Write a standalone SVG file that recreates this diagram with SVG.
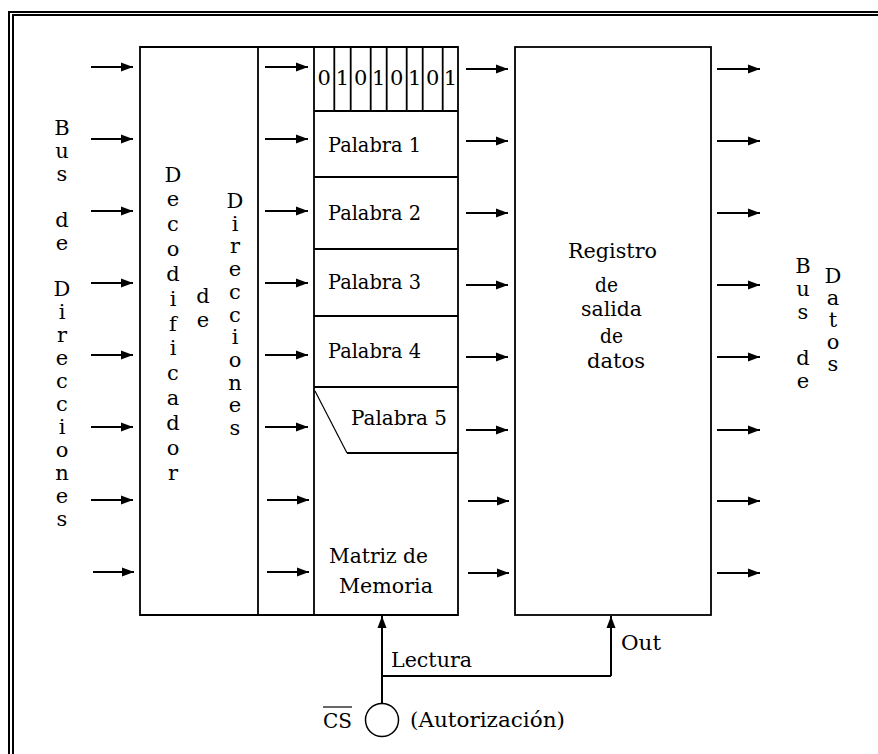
<svg xmlns="http://www.w3.org/2000/svg" width="878" height="754" viewBox="0 0 878 754">
<style>
text{font-family:"DejaVu Serif","Liberation Serif",serif;font-size:21px;fill:#000}
.v{text-anchor:middle;font-size:21px}
.box{fill:none;stroke:#000;stroke-width:1.8}
.ar{stroke:#000;stroke-width:2;fill:none;marker-end:url(#ah)}
.ln{stroke:#000;stroke-width:1.8;fill:none}
.bd{stroke:#000;stroke-width:2;fill:none}
</style>
<defs>
<marker id="ah" markerUnits="userSpaceOnUse" markerWidth="12" markerHeight="10" refX="12" refY="5" orient="auto">
<path d="M0,0.5 L12,5 L0,9.5 z" fill="#000"/>
</marker>
</defs>
<g id="border">
<path class="bd" d="M9,754 V12 H878"/>
<path class="bd" d="M13,754 V15 H878"/>
</g>
<g id="bus-direcciones">
<text class="v"><tspan x="62" y="135">B</tspan><tspan x="62" y="158">u</tspan><tspan x="62" y="181">s</tspan><tspan x="62" y="227">d</tspan><tspan x="62" y="250">e</tspan><tspan x="62" y="296">D</tspan><tspan x="62" y="319">i</tspan><tspan x="62" y="342">r</tspan><tspan x="62" y="365">e</tspan><tspan x="62" y="388">c</tspan><tspan x="62" y="411">c</tspan><tspan x="62" y="434">i</tspan><tspan x="62" y="457">o</tspan><tspan x="62" y="480">n</tspan><tspan x="62" y="503">e</tspan><tspan x="62" y="526">s</tspan></text>
</g>
<g id="decodificador">
<path class="box" d="M140,47 H458 V615 H140 Z M258,47 V615 M314,47 V615"/>
<text class="v"><tspan x="173" y="182">D</tspan><tspan x="173" y="206">e</tspan><tspan x="173" y="231">c</tspan><tspan x="173" y="256">o</tspan><tspan x="173" y="281">d</tspan><tspan x="173" y="306">i</tspan><tspan x="173" y="331">f</tspan><tspan x="173" y="355">i</tspan><tspan x="173" y="380">c</tspan><tspan x="173" y="405">a</tspan><tspan x="173" y="430">d</tspan><tspan x="173" y="455">o</tspan><tspan x="173" y="480">r</tspan></text>
<text class="v"><tspan x="203" y="303">d</tspan><tspan x="203" y="327">e</tspan></text>
<text class="v"><tspan x="235" y="208">D</tspan><tspan x="235" y="230.7">i</tspan><tspan x="235" y="253.4">r</tspan><tspan x="235" y="276.1">e</tspan><tspan x="235" y="298.8">c</tspan><tspan x="235" y="321.5">c</tspan><tspan x="235" y="344.2">i</tspan><tspan x="235" y="366.9">o</tspan><tspan x="235" y="389.6">n</tspan><tspan x="235" y="412.3">e</tspan><tspan x="235" y="435">s</tspan></text>
</g>
<g id="matriz">
<path class="ln" d="M314,111 H458 M314,177 H458 M314,249 H458 M314,316 H458 M314,387 H458 M347,453 H458"/>
<path d="M315,391 L347,453" stroke="#000" stroke-width="1.2" fill="none"/>
<path class="ln" d="M334.3,47 V111 M350.7,47 V111 M370.7,47 V111 M386.7,47 V111 M406.7,47 V111 M422.7,47 V111 M442.7,47 V111"/>
<text class="v" x="324.3" y="85">0</text>
<text class="v" x="342.5" y="85">1</text>
<text class="v" x="360.7" y="85">0</text>
<text class="v" x="378.7" y="85">1</text>
<text class="v" x="396.7" y="85">0</text>
<text class="v" x="414.7" y="85">1</text>
<text class="v" x="432.7" y="85">0</text>
<text class="v" x="450.5" y="85">1</text>
<text x="328" y="152" textLength="93" lengthAdjust="spacingAndGlyphs">Palabra 1</text>
<text x="328" y="220" textLength="93" lengthAdjust="spacingAndGlyphs">Palabra 2</text>
<text x="328" y="289" textLength="93" lengthAdjust="spacingAndGlyphs">Palabra 3</text>
<text x="328" y="358" textLength="93" lengthAdjust="spacingAndGlyphs">Palabra 4</text>
<text x="351" y="425" textLength="96" lengthAdjust="spacingAndGlyphs">Palabra 5</text>
<text x="329" y="563" textLength="99" lengthAdjust="spacingAndGlyphs">Matriz de</text>
<text x="339" y="593" textLength="94" lengthAdjust="spacingAndGlyphs">Memoria</text>
</g>
<g id="registro">
<rect class="box" x="515" y="47" width="196" height="568"/>
<text x="568" y="258" textLength="89" lengthAdjust="spacingAndGlyphs">Registro</text>
<text x="595" y="292" textLength="23" lengthAdjust="spacingAndGlyphs">de</text>
<text x="581" y="316" textLength="61" lengthAdjust="spacingAndGlyphs">salida</text>
<text x="600" y="343" textLength="23" lengthAdjust="spacingAndGlyphs">de</text>
<text x="587" y="368" textLength="58" lengthAdjust="spacingAndGlyphs">datos</text>
</g>
<g id="bus-datos">
<text class="v"><tspan x="803" y="273">B</tspan><tspan x="803" y="296">u</tspan><tspan x="803" y="319">s</tspan><tspan x="803" y="365">d</tspan><tspan x="803" y="388">e</tspan></text>
<text class="v"><tspan x="833" y="283">D</tspan><tspan x="833" y="305">a</tspan><tspan x="833" y="327">t</tspan><tspan x="833" y="349">o</tspan><tspan x="833" y="371">s</tspan></text>
</g>
<g id="cs">
<circle cx="382" cy="720" r="16.5" fill="none" stroke="#000" stroke-width="1.5"/>
<text x="323" y="728" textLength="29" lengthAdjust="spacingAndGlyphs">CS</text>
<path d="M323,707 H352" stroke="#000" stroke-width="1.2"/>
<text x="410" y="727" textLength="155" lengthAdjust="spacingAndGlyphs">(Autorización)</text>
<text x="391" y="667" textLength="81" lengthAdjust="spacingAndGlyphs">Lectura</text>
<text x="621" y="650" textLength="40" lengthAdjust="spacingAndGlyphs">Out</text>
</g>
<g id="connectors">
<line class="ar" x1="91" y1="67" x2="133" y2="67"/>
<line class="ar" x1="91" y1="139" x2="133" y2="139"/>
<line class="ar" x1="91" y1="211" x2="133" y2="211"/>
<line class="ar" x1="91" y1="283" x2="133" y2="283"/>
<line class="ar" x1="91" y1="355" x2="133" y2="355"/>
<line class="ar" x1="91" y1="427" x2="133" y2="427"/>
<line class="ar" x1="91" y1="500" x2="133" y2="500"/>
<line class="ar" x1="93" y1="572" x2="134" y2="572"/>
<line class="ar" x1="265" y1="67" x2="308" y2="67"/>
<line class="ar" x1="265" y1="139" x2="308" y2="139"/>
<line class="ar" x1="265" y1="211" x2="308" y2="211"/>
<line class="ar" x1="265" y1="283" x2="308" y2="283"/>
<line class="ar" x1="265" y1="355" x2="308" y2="355"/>
<line class="ar" x1="265" y1="427" x2="308" y2="427"/>
<line class="ar" x1="267" y1="500" x2="309" y2="500"/>
<line class="ar" x1="267" y1="572" x2="309" y2="572"/>
<line class="ar" x1="466" y1="69" x2="508" y2="69"/>
<line class="ar" x1="466" y1="141" x2="508" y2="141"/>
<line class="ar" x1="466" y1="213" x2="508" y2="213"/>
<line class="ar" x1="466" y1="285" x2="508" y2="285"/>
<line class="ar" x1="466" y1="357" x2="508" y2="357"/>
<line class="ar" x1="466" y1="430" x2="508" y2="430"/>
<line class="ar" x1="468" y1="501" x2="509" y2="501"/>
<line class="ar" x1="468" y1="573" x2="509" y2="573"/>
<line class="ar" x1="717" y1="69" x2="760" y2="69"/>
<line class="ar" x1="717" y1="141" x2="760" y2="141"/>
<line class="ar" x1="717" y1="213" x2="760" y2="213"/>
<line class="ar" x1="717" y1="285" x2="760" y2="285"/>
<line class="ar" x1="717" y1="357" x2="760" y2="357"/>
<line class="ar" x1="717" y1="430" x2="760" y2="430"/>
<line class="ar" x1="717" y1="501" x2="760" y2="501"/>
<line class="ar" x1="717" y1="573" x2="760" y2="573"/>
<line class="ar" x1="382" y1="703.5" x2="382" y2="616"/>
<path class="ln" d="M382,676 H611"/>
<line class="ar" x1="611" y1="676" x2="611" y2="616"/>
</g>
</svg>
